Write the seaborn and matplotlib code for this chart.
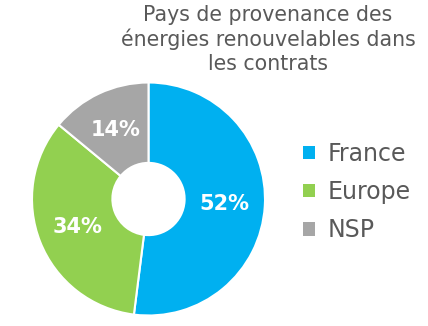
import matplotlib
matplotlib.use("Agg")
import matplotlib.pyplot as plt
import seaborn as sns
import pandas as pd
from matplotlib.patches import Patch

categories = ["France", "Europe", "NSP"]
values = [52, 34, 14]
colors = ["#00B0F0", "#92D050", "#A6A6A6"]
title = "Pays de provenance des\nénergies renouvelables dans\nles contrats"

df = pd.DataFrame({"pays": categories, "pct": values})

sns.set_theme(style="white")
plt.rcParams["font.family"] = ["DejaVu Sans"]

fig = plt.figure(figsize=(4.28, 3.26), dpi=100)
ax = fig.add_axes([32 / 428, (326 - 315.5) / 326, 233 / 428, 233 / 326])

wedges, texts, autotexts = ax.pie(
    df["pct"], colors=colors, startangle=90, counterclock=False,
    radius=1, autopct=lambda p: f"{p:.0f}%", pctdistance=0.655,
    wedgeprops=dict(width=0.69, edgecolor="white", linewidth=1.5),
    textprops=dict(color="white", fontsize=15, fontweight="bold"),
)
ax.set_xlim(-1, 1)
ax.set_ylim(-1, 1)
ax.set_aspect("equal")
ax.axis("off")

fig.text(268 / 428, 1 - 5 / 326, title, ha="center", va="top",
         multialignment="center", fontsize=14.8, color="#595959",
         linespacing=1.22)

handles = [Patch(facecolor=c, edgecolor="none") for c in colors]
leg = fig.legend(handles, categories, loc="center left",
                 bbox_to_anchor=(282 / 428, 1 - 192 / 326), frameon=False,
                 fontsize=17, handlelength=0.5, handleheight=0.5,
                 handletextpad=0.55, labelspacing=0.6)
for t in leg.get_texts():
    t.set_color("#595959")

fig.savefig("out.png", dpi=100)
